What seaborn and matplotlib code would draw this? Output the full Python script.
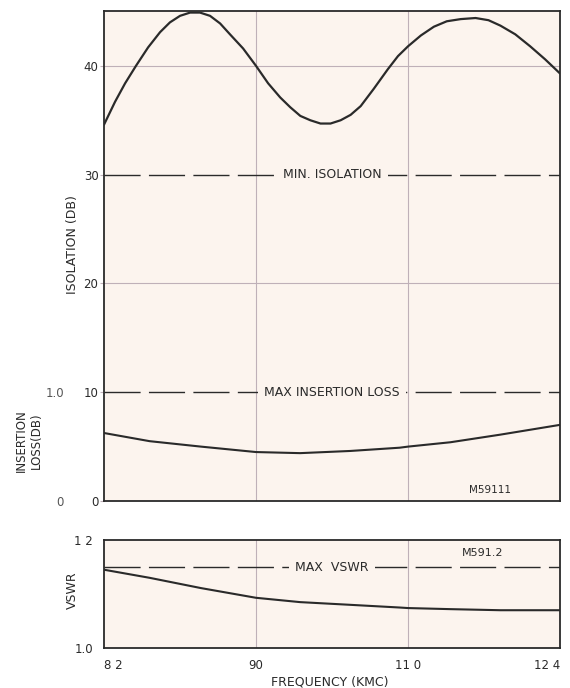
"""
Isolator performance chart: isolation, insertion loss and VSWR vs frequency.
"""

import matplotlib.pyplot as plt
import numpy as np
import seaborn as sns

# frequency in KMC
iso_freq = [8.2, 8.258, 8.311, 8.368, 8.432, 8.495, 8.547, 8.6, 8.653, 8.705,
            8.758, 8.811, 8.863, 8.932, 9.0, 9.159, 9.318, 9.45, 9.583, 9.715,
            9.848, 9.98, 10.113, 10.245, 10.377, 10.55, 10.735, 10.868, 11.0,
            11.119, 11.238, 11.357, 11.485, 11.622, 11.741, 11.851, 11.988,
            12.125, 12.263, 12.4]
isolation_db = [34.6, 36.7, 38.4, 40.0, 41.7, 43.1, 44.0, 44.6, 44.9, 44.9,
                44.6, 43.9, 42.9, 41.6, 40.0, 38.4, 37.1, 36.2, 35.4, 35.0,
                34.7, 34.7, 35.0, 35.5, 36.3, 37.9, 39.7, 40.9, 41.8,
                42.8, 43.6, 44.1, 44.3, 44.4, 44.2, 43.7, 42.9,
                41.8, 40.6, 39.3]

il_freq = [8.2, 8.44, 8.71, 9.0, 9.58, 10.24, 10.89, 11.0, 11.39, 11.85, 12.4]
insertion_loss_db = [0.625, 0.55, 0.50, 0.45, 0.44, 0.46, 0.49, 0.50, 0.54, 0.61, 0.70]

vswr_freq = [8.2, 8.44, 8.71, 9.0, 9.58, 10.24, 10.89, 11.0, 11.39, 11.85, 12.4]
vswr = [1.145, 1.130, 1.111, 1.093, 1.085, 1.080, 1.075, 1.074, 1.072, 1.070, 1.070]

min_isolation = 30
max_insertion_loss = 1.0
max_vswr = 1.15

freq_ticks = [8.2, 9.0, 11.0, 12.4]
freq_labels = ['8 2', '90', '11 0', '12 4']

BG = '#fcf4ee'
INK = '#2a2a2a'
GRID = '#bfb0b8'
DASH = (26, 6)

sns.set_theme(style='white')
plt.rcParams['font.family'] = ['DejaVu Sans']

# the original grid is evenly spaced at 8.2 / 9.0 / 11.0 / 12.4
grid_pos = [0, 1, 2, 3]


def fwd(x):
    return np.interp(x, freq_ticks, grid_pos)


def inv(x):
    return np.interp(x, grid_pos, freq_ticks)


fig = plt.figure(figsize=(5.7, 6.88), dpi=100)
ax = fig.add_axes([0.1825, 0.2718, 0.8, 0.7115])
ax2 = fig.add_axes([0.1825, 0.0581, 0.8, 0.157])

for a in (ax, ax2):
    a.set_facecolor(BG)
    a.set_xscale('function', functions=(fwd, inv))
    a.set_xlim(8.2, 12.4)
    a.set_xticks(freq_ticks)
    for s in a.spines.values():
        s.set_color(INK)
        s.set_linewidth(1.3)
    for xv in (9.0, 11.0):
        a.axvline(xv, color=GRID, lw=0.8, zorder=0.5)

# --- top panel: isolation + insertion loss (10 on the left scale = 1.0 dB)
ax.set_ylim(0, 45)
ax.set_yticks([0, 10, 20, 30, 40])
for yv in (20, 40):
    ax.axhline(yv, color=GRID, lw=0.8, zorder=0.5)

sns.lineplot(x=iso_freq, y=isolation_db, ax=ax, color=INK, lw=1.6, sort=False)
sns.lineplot(x=il_freq, y=np.array(insertion_loss_db) * 10, ax=ax, color=INK, lw=1.5)

ax.axhline(min_isolation, color=INK, lw=1.0, dashes=DASH)
ax.axhline(max_insertion_loss * 10, color=INK, lw=1.0, dashes=DASH)

box = dict(boxstyle='square,pad=0.5', fc=BG, ec='none')
ax.text(10.0, min_isolation, 'MIN. ISOLATION', ha='center', va='center',
        fontsize=9, color=INK, bbox=box)
ax.text(10.0, max_insertion_loss * 10, 'MAX INSERTION LOSS', ha='center', va='center',
        fontsize=9, color=INK, bbox=box)
ax.text(0.846, 0.012, 'M59111', transform=ax.transAxes, ha='center', va='bottom',
        fontsize=7.5, color=INK)

ax.tick_params(axis='x', bottom=False, labelbottom=False)
ax.tick_params(axis='y', left=True, length=3, width=0.8, color=GRID, pad=1,
               labelsize=8.5, labelcolor=INK)
ax.set_ylabel('ISOLATION (DB)', fontsize=9, color=INK)
ax.yaxis.set_label_coords(-0.055, 0.523)

sec = ax.secondary_yaxis(-0.085, functions=(lambda v: v / 10, lambda v: v * 10))
sec.set_yticks([0, 1.0])
sec.set_yticklabels(['0', '1.0'])
sec.spines['left'].set_visible(False)
sec.tick_params(length=0, labelsize=8.5, labelcolor='#555555', pad=1)

fig.text(29 / 570, 1 - 441 / 688, 'INSERTION\nLOSS(DB)', rotation=90, ha='center',
         va='center', multialignment='center', fontsize=8.5, color=INK, linespacing=1.15)

# --- bottom panel: VSWR
ax2.set_ylim(1.0, 1.2)
ax2.set_yticks([1.0, 1.2])
ax2.set_yticklabels(['1.0', '1 2'])
sns.lineplot(x=vswr_freq, y=vswr, ax=ax2, color=INK, lw=1.5)
ax2.axhline(max_vswr, color=INK, lw=1.0, dashes=DASH)
ax2.text(10.0, max_vswr, 'MAX  VSWR', ha='center', va='center',
         fontsize=9, color=INK, bbox=box)
ax2.text(0.83, 0.88, 'M591.2', transform=ax2.transAxes, ha='center', va='center',
         fontsize=8, color=INK)

ax2.set_xticklabels(freq_labels)
for lbl, ha in zip(ax2.get_xticklabels(), ['left', 'center', 'center', 'right']):
    lbl.set_horizontalalignment(ha)
ax2.tick_params(axis='x', bottom=False, pad=2, labelsize=8.5, labelcolor=INK)
ax2.tick_params(axis='y', left=False, pad=2, labelsize=8.5, labelcolor=INK)
ax2.set_ylabel('VSWR', fontsize=9, color=INK)
ax2.yaxis.set_label_coords(-0.055, 0.537)
ax2.set_xlabel('FREQUENCY (KMC)', fontsize=9, color=INK)
ax2.xaxis.set_label_coords(0.496, -0.25)

fig.savefig('out.png', dpi=100, facecolor='white')
